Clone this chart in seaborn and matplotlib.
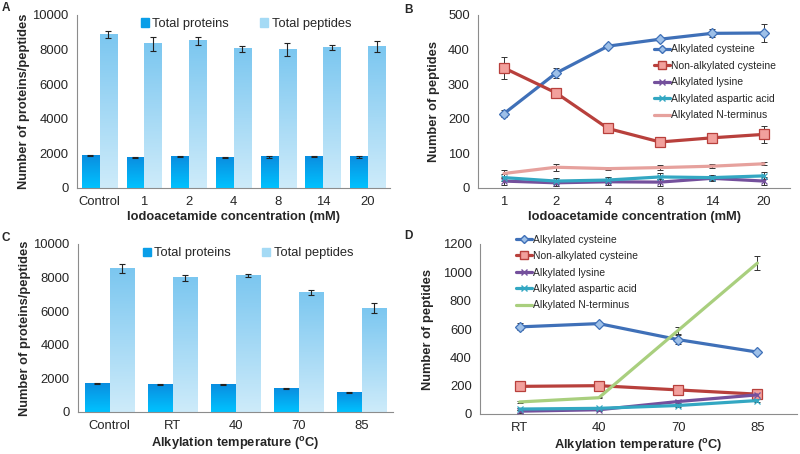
import matplotlib
matplotlib.use("Agg")
import matplotlib.pyplot as plt
from matplotlib.colors import LinearSegmentedColormap
from matplotlib.patches import Patch
from matplotlib.lines import Line2D
import numpy as np
import pandas as pd
import seaborn as sns

# panel A: iodoacetamide concentration, bar chart
conc_bar = ["Control", "1", "2", "4", "8", "14", "20"]
prot_a = [1870, 1780, 1820, 1750, 1800, 1800, 1800]
prot_a_err = [30, 30, 40, 20, 40, 30, 50]
pep_a = [8850, 8330, 8500, 8050, 7990, 8100, 8180]
pep_a_err = [200, 420, 220, 170, 380, 150, 330]

# panel B: iodoacetamide concentration, lines
conc_line = ["1", "2", "4", "8", "14", "20"]
cys_b = [215, 332, 410, 430, 447, 448]
cys_b_err = [10, 15, 6, 6, 12, 25]
noncys_b = [347, 275, 172, 133, 145, 155]
noncys_b_err = [33, 10, 8, 8, 10, 25]
lys_b = [20, 15, 18, 17, 28, 20]
lys_b_err = [10, 8, 8, 10, 8, 12]
asp_b = [30, 20, 23, 32, 30, 35]
asp_b_err = [10, 8, 8, 12, 8, 10]
nterm_b = [42, 60, 56, 59, 63, 70]
nterm_b_err = [10, 10, 5, 8, 6, 4]

# panel C: alkylation temperature, bar chart
temp_bar = ["Control", "RT", "40", "70", "85"]
prot_c = [1700, 1620, 1650, 1420, 1150]
prot_c_err = [25, 30, 20, 30, 30]
pep_c = [8550, 7980, 8130, 7100, 6180]
pep_c_err = [250, 200, 100, 150, 300]

# panel D: alkylation temperature, lines
temp_line = ["RT", "40", "70", "85"]
cys_d = [615, 638, 525, 437]
cys_d_err = [25, 10, 30, 10]
noncys_d = [195, 200, 170, 140]
noncys_d_err = [15, 15, 10, 10]
lys_d = [20, 30, 88, 135]
lys_d_err = [10, 10, 10, 10]
asp_d = [35, 40, 60, 95]
asp_d_err = [10, 10, 10, 10]
nterm_d = [85, 115, 590, 1065]
nterm_d_err = [5, 5, 25, 50]

sns.set_style("white")
plt.rcParams["font.family"] = ["Liberation Sans", "DejaVu Sans"]
plt.rcParams["mathtext.fontset"] = "custom"
plt.rcParams["mathtext.bf"] = "Liberation Sans:bold"
plt.rcParams["mathtext.rm"] = "Liberation Sans:bold"

SPINE = "#8c8c8c"
W, H = 800, 454
TICK_FS = 9.4
LABEL_FS = 9.3

prot_cmap = LinearSegmentedColormap.from_list("prot", ["#00c2ff", "#0a8ee0"])
pep_cmap = LinearSegmentedColormap.from_list("pep", ["#cdebfa", "#7cc7f0"])


def px_axes(fig, l, r, t, b):
    return fig.add_axes([l / W, (H - b) / H, (r - l) / W, (b - t) / H])


def style_axes(ax, n, ymax, ystep):
    ax.set_xlim(-0.5, n - 0.5)
    ax.set_ylim(0, ymax)
    ax.set_yticks(np.arange(0, ymax + 1, ystep))
    ax.set_xticks(range(n))
    ax.set_xticks(np.arange(-0.5, n, 1.0), minor=True)
    ax.tick_params(axis="x", which="major", length=0, labelsize=TICK_FS, pad=6)
    ax.tick_params(axis="x", which="minor", length=4, color=SPINE, width=0.8,
                   direction="out")
    ax.tick_params(axis="y", length=4, color=SPINE, width=0.8, labelsize=TICK_FS,
                   direction="out", pad=2)
    for s in ["top", "right"]:
        ax.spines[s].set_visible(False)
    for s in ["left", "bottom"]:
        ax.spines[s].set_color(SPINE)
        ax.spines[s].set_linewidth(0.8)
    ax.grid(False)


def bar_panel(ax, cats, prot, prot_err, pep, pep_err, xlabel):
    df = pd.DataFrame({
        "cat": cats * 2,
        "val": prot + pep,
        "kind": ["Total proteins"] * len(cats) + ["Total peptides"] * len(cats),
    })
    sns.barplot(data=df, x="cat", y="val", hue="kind", ax=ax, width=0.8,
                gap=0.04, legend=False, errorbar=None,
                palette=["#0a8ee0", "#7cc7f0"], zorder=2)
    ymax = 10000
    for cont, cmap, errs in zip(ax.containers, [prot_cmap, pep_cmap],
                                [prot_err, pep_err]):
        xs, ys = [], []
        for patch in cont.patches:
            x, w, h = patch.get_x(), patch.get_width(), patch.get_height()
            grad = np.linspace(0, h / ymax, 64).reshape(-1, 1)
            ax.imshow(grad, extent=[x, x + w, 0, h], origin="lower",
                      aspect="auto", cmap=cmap, vmin=0, vmax=h / ymax,
                      zorder=2)
            patch.set_visible(False)
            xs.append(x + w / 2)
            ys.append(h)
        ax.errorbar(xs, ys, yerr=errs, fmt="none", ecolor="#222222",
                    elinewidth=0.8, capsize=2, capthick=0.8, zorder=3)
    style_axes(ax, len(cats), 10000, 2000)
    ax.set_xlabel(xlabel, fontsize=LABEL_FS, fontweight="bold", labelpad=2)
    ax.set_ylabel("Number of proteins/peptides", fontsize=LABEL_FS,
                  fontweight="bold", labelpad=2)
    handles = [Patch(color="#0a9ee8"), Patch(color="#a4daf5")]
    ax.legend(handles, ["Total proteins", "Total peptides"], ncol=2,
              loc="upper center", bbox_to_anchor=(0.54, 1.05), frameon=False,
              fontsize=9.3, handlelength=0.6, handleheight=0.6,
              handletextpad=0.3, columnspacing=2.4)


def line_panel(ax, cats, series, ymax, ystep, xlabel, legend_anchor):
    xs = np.arange(len(cats))
    handles = []
    for name, vals, errs, color, marker, mfc, ms in series:
        sns.lineplot(x=xs, y=vals, ax=ax, color=color, linewidth=2.3,
                     marker=marker, markersize=ms, markerfacecolor=mfc,
                     markeredgecolor=color, markeredgewidth=0.9, zorder=3)
        ax.errorbar(xs, vals, yerr=errs, fmt="none", ecolor="#333333",
                    elinewidth=0.7, capsize=2, capthick=0.7, zorder=2)
        handles.append(Line2D([], [], color=color, linewidth=2.3,
                              marker=marker, markersize=ms * 0.8,
                              markerfacecolor=mfc, markeredgecolor=color))
    style_axes(ax, len(cats), ymax, ystep)
    ax.set_xticklabels(cats)
    ax.set_xlabel(xlabel, fontsize=LABEL_FS, fontweight="bold", labelpad=2)
    ax.set_ylabel("Number of peptides", fontsize=LABEL_FS, fontweight="bold",
                  labelpad=6)
    ax.legend(handles, [s[0] for s in series], loc="upper left",
              bbox_to_anchor=legend_anchor, frameon=False, fontsize=7.5,
              handlelength=1.5, handletextpad=0.1, labelspacing=0.62,
              borderaxespad=0, borderpad=0)


fig = plt.figure(figsize=(8, 4.54), dpi=100)

ax_a = px_axes(fig, 77, 390, 15, 188)
bar_panel(ax_a, conc_bar, prot_a, prot_a_err, pep_a, pep_a_err,
          "Iodoacetamide concentration (mM)")

ax_c = px_axes(fig, 78, 393, 244, 412)
bar_panel(ax_c, temp_bar, prot_c, prot_c_err, pep_c, pep_c_err,
          r"Alkylation temperature ($^{\mathrm{o}}$C)")

ax_b = px_axes(fig, 478, 790, 15, 188)
series_b = [
    ("Alkylated cysteine", cys_b, cys_b_err, "#3f70b8", "D", "#9ec0e8", 5),
    ("Non-alkylated cysteine", noncys_b, noncys_b_err, "#b8403c", "s", "#f2a09c", 7),
    ("Alkylated lysine", lys_b, lys_b_err, "#74509c", "x", "#74509c", 5),
    ("Alkylated aspartic acid", asp_b, asp_b_err, "#33a7c2", "x", "#33a7c2", 5),
    ("Alkylated N-terminus", nterm_b, nterm_b_err, "#e6a19d", None, None, 4),
]
line_panel(ax_b, conc_line, series_b, 500, 100,
           "Iodoacetamide concentration (mM)", (0.565, 0.83))

ax_d = px_axes(fig, 480, 797, 244, 414)
series_d = [
    ("Alkylated cysteine", cys_d, cys_d_err, "#3f70b8", "D", "#9ec0e8", 5),
    ("Non-alkylated cysteine", noncys_d, noncys_d_err, "#b8403c", "s", "#f2a09c", 7),
    ("Alkylated lysine", lys_d, lys_d_err, "#74509c", "x", "#74509c", 5),
    ("Alkylated aspartic acid", asp_d, asp_d_err, "#33a7c2", "x", "#33a7c2", 5),
    ("Alkylated N-terminus", nterm_d, nterm_d_err, "#a9cf7e", None, None, 4),
]
line_panel(ax_d, temp_line, series_d, 1200, 200,
           r"Alkylation temperature ($^{\mathrm{o}}$C)", (0.115, 1.055))

for lab, x, y in [("A", 2, 2), ("B", 404, 4), ("C", 2, 232), ("D", 404, 230)]:
    fig.text(x / W, 1 - y / H, lab, fontsize=8.5, fontweight="bold",
             ha="left", va="top")

fig.savefig("out.png", dpi=100)
